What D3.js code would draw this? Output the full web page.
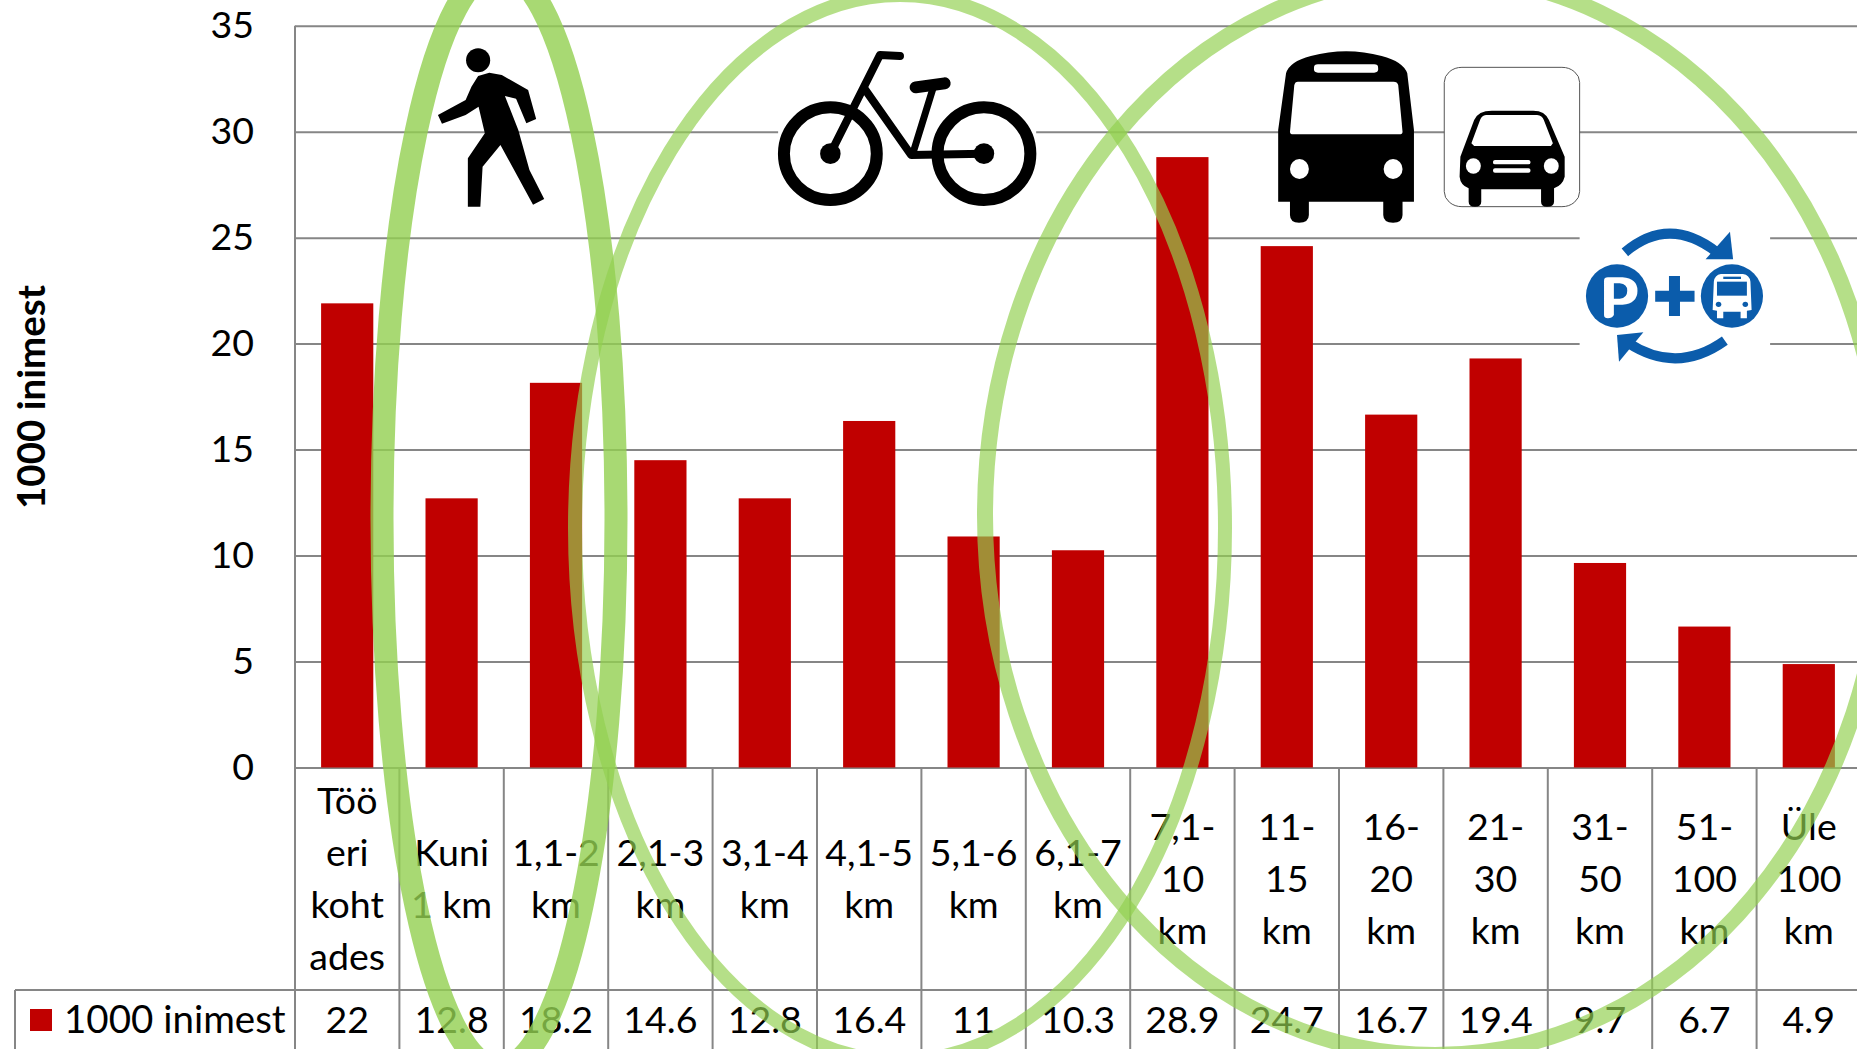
<!DOCTYPE html>
<html>
<head>
<meta charset="utf-8">
<script src="https://cdn.jsdelivr.net/npm/d3@7"></script>
<style>
  html, body { margin: 0; padding: 0; background: #fff; overflow: hidden; }
  text { font-family: Lato, "Open Sans", sans-serif; fill: #000; }
</style>
</head>
<body>
<div id="chart"></div>
<script>
const categories = [['Töö', 'eri', 'koht', 'ades'], ['Kuni', '1 km'], ['1,1-2', 'km'], ['2,1-3', 'km'], ['3,1-4', 'km'],
  ['4,1-5', 'km'], ['5,1-6', 'km'], ['6,1-7', 'km'], ['7,1-', '10', 'km'], ['11-', '15', 'km'], ['16-', '20', 'km'],
  ['21-', '30', 'km'], ['31-', '50', 'km'], ['51-', '100', 'km'], ['Üle', '100', 'km']];
// numbers printed in the data table
const values = [22, 12.8, 18.2, 14.6, 12.8, 16.4, 11, 10.3, 28.9, 24.7, 16.7, 19.4, 9.7, 6.7, 4.9];
// bar heights, they sit a little under the printed numbers
const barValues = [21.9, 12.7, 18.15, 14.5, 12.7, 16.35, 10.9, 10.25, 28.8, 24.6, 16.65, 19.3, 9.65, 6.65, 4.88];
const yTicks = [0, 5, 10, 15, 20, 25, 30, 35];
const seriesName = '1000 inimest';

const width = 1857;
const height = 1049;
const gridColor = '#868686';
const fontSize = 37.5;

const svg = d3.select('#chart').append('svg')
  .attr('width', width)
  .attr('height', height)
  .style('display', 'block');

const x = d3.scaleBand()
  .domain(d3.range(categories.length))
  .range([295, 1861])
  .paddingInner(0.5)
  .paddingOuter(0.25);

const y = d3.scaleLinear()
  .domain([0, 35])
  .range([767.5, 25.7]);

// gridlines and labels of the value axis
const yAxis = svg.append('g')
  .attr('transform', 'translate(295,0)')
  .call(d3.axisLeft(y).tickValues(yTicks).tickSize(0).tickPadding(41));
yAxis.select('.domain').remove();
yAxis.selectAll('text')
  .attr('font-size', fontSize)
  .style('font-family', 'Lato');
yAxis.selectAll('.tick').append('line')
  .attr('x1', 0)
  .attr('x2', width - 295)
  .attr('stroke', gridColor)
  .attr('stroke-width', 2);

// data table lines under the plot
const tableBottom = height;
const rowLine = 990;
const boundaries = d3.range(categories.length + 1).map(i => 295 + i * x.step());
svg.selectAll('.col-line').data(boundaries).join('line')
  .attr('x1', d => d).attr('x2', d => d)
  .attr('y1', (d, i) => i === 0 ? y(35) : y(0))
  .attr('y2', tableBottom)
  .attr('stroke', gridColor)
  .attr('stroke-width', 2);
svg.append('line')
  .attr('x1', 15).attr('x2', width)
  .attr('y1', rowLine).attr('y2', rowLine)
  .attr('stroke', gridColor).attr('stroke-width', 2);
svg.append('line')
  .attr('x1', 15).attr('x2', 15)
  .attr('y1', rowLine).attr('y2', tableBottom)
  .attr('stroke', gridColor).attr('stroke-width', 2);

// Images in the original sit on top of the grid and mask it with a white background
// Coordinates below are in "zoom space": x scaled, y scaled, then mapped to the page
function iconGroup(ox, oy, sx, sy) {
  return svg.append('g').attr('transform', `translate(${ox},${oy}) scale(${sx},${sy})`);
}

// pedestrian and bicycle
const g1 = iconGroup(400, 0, 1 / 2.24, 1 / 3);
g1.append('rect').attr('x', 847).attr('y', 100).attr('width', 578).attr('height', 530).attr('fill', '#fff');
g1.append('ellipse').attr('cx', 175).attr('cy', 181).attr('rx', 27).attr('ry', 36);
g1.append('path').attr('d', 'M175 228 L200 218 L228 225 L287 270 L305 357 L283 370 L260 296 L235 288 L265 390 L290 510 L323 597 L298 614 L225 435 L185 500 L180 620 L152 620 L152 475 L190 400 L176 320 L147 345 L94 371 L85 345 L147 300 L160 260 Z');
const wheel = { fill: 'none', stroke: '#000', 'stroke-width': 12, 'vector-effect': 'non-scaling-stroke' };
[964, 1308].forEach(cx => {
  const e = g1.append('ellipse').attr('cx', cx).attr('cy', 461).attr('rx', 104).attr('ry', 139);
  Object.entries(wheel).forEach(([k, v]) => e.attr(k, v));
  g1.append('ellipse').attr('cx', cx).attr('cy', 461).attr('rx', 23).attr('ry', 31);
});
function bikeLine(d, w) {
  g1.append('path').attr('d', d)
    .attr('fill', 'none').attr('stroke', '#000').attr('stroke-width', w)
    .attr('stroke-linecap', 'round').attr('stroke-linejoin', 'round')
    .attr('vector-effect', 'non-scaling-stroke');
}
bikeLine('M964 461 L1075 165 L1120 168', 8);
bikeLine('M1040 265 L1145 465 L1308 461', 8);
bikeLine('M1195 260 L1150 455', 7);
bikeLine('M1155 262 L1220 250', 12);

// bus, car, park and ride
const g2 = iconGroup(1240, 20, 1 / 2.541, 1 / 3);
g2.append('path').attr('d', 'M97 545 L97 330 L117 160 Q125 125 180 108 Q270 80 360 108 Q415 125 425 160 L442 330 L442 545 L413 545 L413 585 Q413 608 389 608 Q364 608 364 585 L364 545 L175 545 L175 585 Q175 608 150 608 Q127 608 127 585 L127 545 Z');
g2.append('path').attr('fill', '#fff').attr('d', 'M147 185 L390 185 Q400 185 402 195 L413 335 Q413 343 405 343 L135 343 Q127 343 127 335 L138 195 Q140 185 147 185 Z');
g2.append('rect').attr('x', 188).attr('y', 133).attr('width', 163).attr('height', 25).attr('rx', 10).attr('fill', '#fff');
[151, 389].forEach(cx => g2.append('ellipse').attr('cx', cx).attr('cy', 447).attr('rx', 24).attr('ry', 30).attr('fill', '#fff'));

g2.append('rect').attr('x', 519).attr('y', 142).attr('width', 344).attr('height', 418).attr('rx', 45)
  .attr('fill', '#fff').attr('stroke', '#555').attr('stroke-width', 1).attr('vector-effect', 'non-scaling-stroke');
g2.append('path').attr('d', 'M560 410 L595 300 Q605 272 640 272 L745 272 Q775 272 785 300 L825 410 L825 470 Q820 495 798 505 L798 545 Q798 560 780 560 Q765 560 765 545 L765 508 L613 508 L613 545 Q613 560 597 560 Q581 560 581 545 L581 505 Q560 495 558 470 Z');
g2.append('path').attr('fill', '#fff').attr('d', 'M625 285 L755 285 Q768 287 772 300 L795 370 L790 378 L595 378 L588 370 L610 300 Q614 287 625 285 Z');
[593, 791].forEach(cx => g2.append('ellipse').attr('cx', cx).attr('cy', 438).attr('rx', 19).attr('ry', 23).attr('fill', '#fff'));
[420, 445].forEach(gy => g2.append('rect').attr('x', 643).attr('y', gy).attr('width', 95).attr('height', 13).attr('rx', 5).attr('fill', '#fff'));

const pr = '#0b5cab';
g2.append('rect').attr('x', 863).attr('y', 600).attr('width', 484).attr('height', 450).attr('fill', '#fff');
g2.append('ellipse').attr('cx', 958).attr('cy', 828).attr('rx', 79).attr('ry', 95).attr('fill', pr);
g2.append('ellipse').attr('cx', 1250).attr('cy', 828).attr('rx', 79).attr('ry', 95).attr('fill', pr);
g2.append('path').attr('fill', '#fff').attr('fill-rule', 'evenodd')
  .attr('d', 'M925 782 Q925 772 935 772 L972 772 Q1010 776 1010 812 Q1010 850 972 854 L950 854 L950 885 Q945 895 935 895 Q925 895 925 885 Z M950 790 L950 836 L965 836 Q984 834 984 812 Q984 792 965 790 Z');
g2.append('path').attr('fill', pr).attr('d', 'M1055 812 L1090 812 L1090 768 L1118 768 L1118 812 L1155 812 L1155 845 L1118 845 L1118 888 L1090 888 L1090 845 L1055 845 Z');
g2.append('path').attr('fill', '#fff').attr('d', 'M1222 762 L1278 762 Q1295 765 1297 785 L1300 870 L1288 872 L1288 895 L1272 895 L1272 875 L1228 875 L1228 895 L1212 895 L1212 872 L1201 870 L1204 785 Q1206 765 1222 762 Z');
g2.append('rect').attr('x', 1212).attr('y', 785).attr('width', 76).attr('height', 42).attr('fill', pr);
g2.append('rect').attr('x', 1228).attr('y', 770).attr('width', 45).attr('height', 7).attr('fill', pr);
[1216, 1284].forEach(cx => g2.append('ellipse').attr('cx', cx).attr('cy', 853).attr('rx', 7).attr('ry', 8).attr('fill', pr));
['M978 697 Q1090 585 1212 697', 'M1232 962 Q1110 1065 985 968'].forEach(d => {
  g2.append('path').attr('d', d).attr('fill', 'none').attr('stroke', pr).attr('stroke-width', 10).attr('vector-effect', 'non-scaling-stroke');
});
g2.append('path').attr('fill', pr).attr('d', 'M1183 718 L1245 635 L1253 718 Z');
g2.append('path').attr('fill', pr).attr('d', 'M1025 937 L958 945 L963 1025 Z');

// bars
svg.selectAll('.bar').data(barValues).join('rect')
  .attr('class', 'bar')
  .attr('x', (d, i) => x(i))
  .attr('y', d => y(d))
  .attr('width', x.bandwidth())
  .attr('height', d => y(0) - y(d))
  .attr('fill', '#c00000');

// category labels, wrapped as in the table
const lineHeight = 52;
const labelMid = 891.5;
categories.forEach((lines, i) => {
  lines.forEach((line, j) => {
    svg.append('text')
      .attr('x', x(i) + x.bandwidth() / 2)
      .attr('y', labelMid + (j - (lines.length - 1) / 2) * lineHeight)
      .attr('text-anchor', 'middle')
      .attr('font-size', fontSize)
      .text(line);
  });
});

// table values and legend key
svg.selectAll('.value').data(values).join('text')
  .attr('class', 'value')
  .attr('x', (d, i) => x(i) + x.bandwidth() / 2)
  .attr('y', 1033)
  .attr('text-anchor', 'middle')
  .attr('font-size', fontSize)
  .text(d => d);
svg.append('rect')
  .attr('x', 30).attr('y', 1009).attr('width', 22).attr('height', 22)
  .attr('fill', '#c00000');
svg.append('text')
  .attr('x', 64).attr('y', 1033)
  .attr('font-size', fontSize + 1)
  .text(seriesName);

// axis title
svg.append('text')
  .attr('transform', 'translate(45,397) rotate(-90)')
  .attr('text-anchor', 'middle')
  .attr('font-size', 38.5)
  .attr('font-weight', 700)
  .text(seriesName);

// green ellipses grouping the distances by mode of transport
const rings = [
  { cx: 499, cy: 519, rx: 117, ry: 549, w: 23, color: 'rgba(146,208,80,0.8)' },
  { cx: 900, cy: 528, rx: 325, ry: 533, w: 14, color: 'rgba(146,208,80,0.68)' },
  { cx: 1435, cy: 515, rx: 450, ry: 540, w: 16, color: 'rgba(146,208,80,0.68)' }
];
svg.selectAll('.ring').data(rings).join('ellipse')
  .attr('class', 'ring')
  .attr('cx', d => d.cx).attr('cy', d => d.cy)
  .attr('rx', d => d.rx).attr('ry', d => d.ry)
  .attr('fill', 'none')
  .attr('stroke', d => d.color)
  .attr('stroke-width', d => d.w);
</script>
</body>
</html>
